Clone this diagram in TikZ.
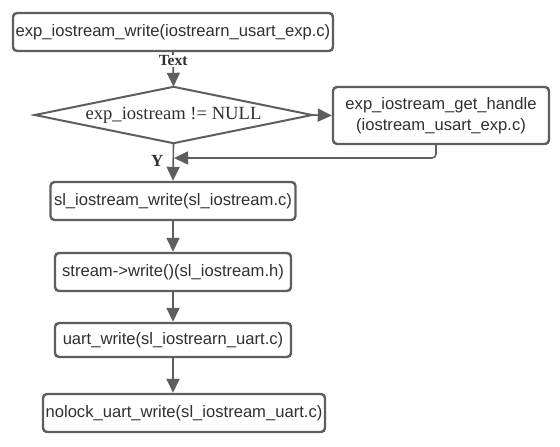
\documentclass[tikz,border=0pt]{standalone}
\usepackage{fontspec}
\setmainfont{Liberation Sans}
\newfontfamily\serifface{Liberation Serif}
\usetikzlibrary{shapes.geometric,arrows.meta,calc}
\definecolor{linegray}{HTML}{5E5E5E}
\definecolor{txtgray}{HTML}{303030}
\tikzset{
  procbox/.style={draw=linegray, line width=2.4pt, rounded corners=4pt, fill=white,
    inner sep=0pt, text=txtgray, font=\fontsize{16.6}{21}\selectfont, align=center},
  decbox/.style={inner sep=0pt, text=txtgray, font=\serifface\fontsize{18.6}{22}\selectfont,
    minimum width=277pt, minimum height=56pt},
  decline/.style={draw=linegray, line width=2pt, fill=white, line join=miter},
  flow/.style={draw=linegray, line width=1.6pt, -{Triangle[length=14pt,width=13pt]}},
  lbl/.style={text=txtgray, font=\serifface\bfseries\fontsize{15.5}{18}\selectfont, inner sep=1pt}
}
\begin{document}
\begin{tikzpicture}[x=1pt,y=-1pt]
\useasboundingbox[fill=white] (0,0) rectangle (560,447);
\node[procbox, minimum width=320pt, minimum height=38pt] (b1) at (173,32) {exp\_iostream\_write(iostrearn\_usart\_exp.c)};
\node[decbox] (d) at (173.5,115) {};
\draw[decline] (d.north) -- (d.east) -- (d.south) -- (d.west) -- cycle;
\node[decbox] at (d.center) {exp\_iostream != NULL};
\node[procbox, minimum width=216pt, minimum height=57pt] (b2) at (441,115.5) {exp\_iostream\_get\_handle\\(iostream\_usart\_exp.c)};
\node[procbox, minimum width=245pt, minimum height=38pt] (b3) at (173,201) {sl\_iostream\_write(sl\_iostream.c)};
\node[procbox, minimum width=236pt, minimum height=38pt] (b4) at (173,272) {stream->write()(sl\_iostream.h)};
\node[procbox, minimum width=236pt, minimum height=34pt] (b5) at (173,340) {uart\_write(sl\_iostrearn\_uart.c)};
\node[procbox, minimum width=282pt, minimum height=38pt] (b6) at (184,413) {nolock\_uart\_write(sl\_iostream\_uart.c)};
\coordinate (j) at (174,158);
\coordinate (r) at (436,158);

\draw[flow] (b1.south) -- node[lbl, fill=white, pos=0.25] {Text} (d.north);
\draw[flow] (d.east) -- (b2.west);
\draw[flow] (d.south) -- node[lbl, pos=0.47, left=8pt, font=\serifface\bfseries\fontsize{17}{20}\selectfont] {Y} (b3.north);
\draw[flow, rounded corners=4pt] ([xshift=-5pt]b2.south) -- (r) -- (j);
\draw[flow] (b3.south) -- (b4.north);
\draw[flow] (b4.south) -- (b5.north);
\draw[flow] (b5.south) -- (b6.north -| b5.south);
\end{tikzpicture}
\end{document}
